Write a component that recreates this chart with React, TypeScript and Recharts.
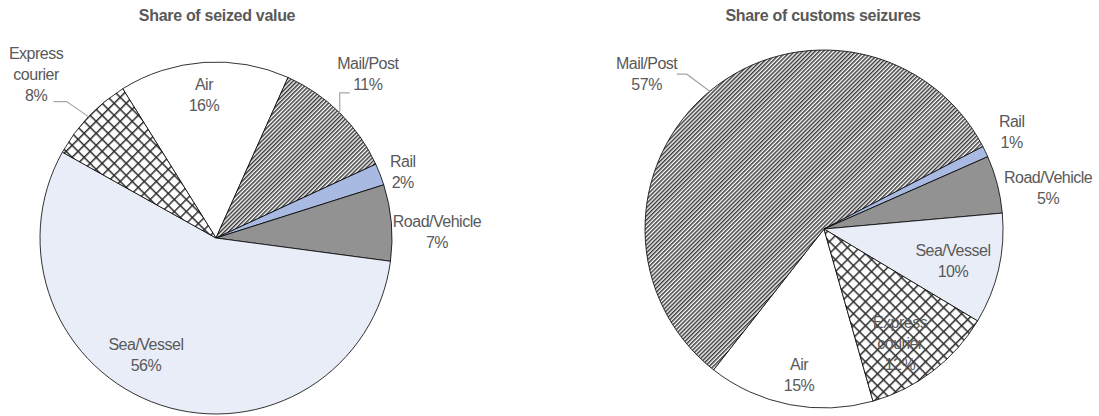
import React from "react";
import { PieChart, Pie, Cell } from "recharts";

// slices go clockwise in this order in both pies
const categories = ["Air", "Mail/Post", "Rail", "Road/Vehicle", "Sea/Vessel", "Express courier"];
const valueShare = [15.6, 11.4, 2, 7, 56, 8];
const seizureShare = [15, 56.8, 1, 5.2, 10, 12];
const titles = ["Share of seized value", "Share of customs seizures"];

const fills = ["#ffffff", "url(#stripes)", "#a8bae2", "#929292", "#e9edf7", "url(#diamonds)"];

const TEXT = "#595959";
const RAD = Math.PI / 180;

// label placement: radius factor and angle nudge (deg, clockwise) around each slice mid
const leftPlace = [
  { k: 0.815, dA: -0.9 },
  { k: 1.27, dA: -1.9 },
  { k: 1.125, dA: 1.8 },
  { k: 1.256, dA: 3.4 },
  { k: 0.775, dA: 12.5 },
  { k: 1.38, dA: -1.4 },
];
const rightPlace = [
  { k: 0.827, dA: -1.4 },
  { k: 1.318, dA: -9.1 },
  { k: 1.18, dA: -1.7 },
  { k: 1.273, dA: 4 },
  { k: 0.742, dA: 1 },
  { k: 0.765, dA: 3.8 },
];
// leader line bends, relative to the slice edge point
const leftLeaders: Record<number, number[][]> = {
  1: [[0, -20], [10, -20]],
  5: [[-22, -15], [-35, -15]],
};
const rightLeaders: Record<number, number[][]> = {
  1: [[-23, -17], [-33, -17]],
};

const polar = (cx: number, cy: number, r: number, theta: number) => [
  cx + r * Math.sin(theta * RAD),
  cy - r * Math.cos(theta * RAD),
];

const makeLabel =
  (values: number[], place: { k: number; dA: number }[], leaders: Record<number, number[][]>) =>
  (props: any) => {
    const { cx, cy, midAngle, outerRadius, index } = props;
    const theta = 90 - midAngle;
    const p = place[index];
    const [x, y] = polar(cx, cy, outerRadius * p.k, theta + p.dA);
    const lines = [...categories[index].split(" "), Math.round(values[index]) + "%"];
    const lh = 21;
    const y0 = y - ((lines.length - 1) * lh) / 2;
    const lead = leaders[index];
    let pts = "";
    if (lead) {
      const [sx, sy] = polar(cx, cy, outerRadius, theta);
      pts = [[sx, sy], ...lead.map(([dx, dy]) => [sx + dx, sy + dy])].map((q) => q.join(",")).join(" ");
    }
    return (
      <g key={"lbl" + index}>
        {lead && <polyline points={pts} fill="none" stroke="#a6a6a6" strokeWidth={1.2} />}
        <text
          textAnchor="middle"
          fill={TEXT}
          fontSize={16}
          letterSpacing={-0.5}
          fontFamily='"Liberation Sans", Arial, sans-serif'
        >
          {lines.map((l, i) => (
            <tspan key={i} x={x} y={y0 + i * lh + 5.6}>
              {l}
            </tspan>
          ))}
        </text>
      </g>
    );
  };

const leftData = categories.map((name, i) => ({ name, value: valueShare[i] }));
const rightData = categories.map((name, i) => ({ name, value: seizureShare[i] }));

export default function App() {
  return (
    <div
      style={{
        position: "absolute",
        left: 0,
        top: 0,
        width: 1099,
        height: 416,
        background: "#fff",
        fontFamily: '"Liberation Sans", Arial, sans-serif',
      }}
    >
      {[217, 823].map((c, i) => (
        <div
          key={i}
          style={{
            position: "absolute",
            left: c - 200,
            width: 400,
            top: 6,
            lineHeight: "20px",
            textAlign: "center",
            fontSize: 16,
            fontWeight: "bold",
            color: TEXT,
            letterSpacing: -0.3,
          }}
        >
          {titles[i]}
        </div>
      ))}
      <PieChart
        width={1099}
        height={416}
        margin={{ top: 0, right: 0, bottom: 0, left: 0 }}
        style={{ position: "absolute", left: 0, top: 0 }}
      >
        <defs>
          <pattern id="stripes" width="2.9" height="2.9" patternUnits="userSpaceOnUse" patternTransform="rotate(45)">
            <rect width="2.9" height="2.9" fill="#ffffff" />
            <rect width="1.5" height="2.9" fill="#3a3a3a" />
          </pattern>
          <pattern id="diamonds" width="8.5" height="8.5" patternUnits="userSpaceOnUse" patternTransform="rotate(45)">
            <rect width="8.5" height="8.5" fill="#ffffff" />
            <rect width="8.5" height="1.5" fill="#2e2e2e" />
            <rect width="1.5" height="8.5" fill="#2e2e2e" />
          </pattern>
        </defs>
        <Pie
          data={leftData}
          dataKey="value"
          nameKey="name"
          cx={216}
          cy={238}
          outerRadius={176}
          startAngle={122}
          endAngle={-238}
          stroke="#000"
          strokeWidth={0.8}
          label={makeLabel(valueShare, leftPlace, leftLeaders)}
          labelLine={false}
          isAnimationActive={false}
        >
          {leftData.map((d, i) => (
            <Cell key={d.name} fill={fills[i]} />
          ))}
        </Pie>
        <Pie
          data={rightData}
          dataKey="value"
          nameKey="name"
          cx={824}
          cy={229}
          outerRadius={179}
          startAngle={-74.1}
          endAngle={-434.1}
          stroke="#000"
          strokeWidth={0.8}
          label={makeLabel(seizureShare, rightPlace, rightLeaders)}
          labelLine={false}
          isAnimationActive={false}
        >
          {rightData.map((d, i) => (
            <Cell key={d.name} fill={fills[i]} />
          ))}
        </Pie>
      </PieChart>
    </div>
  );
}
